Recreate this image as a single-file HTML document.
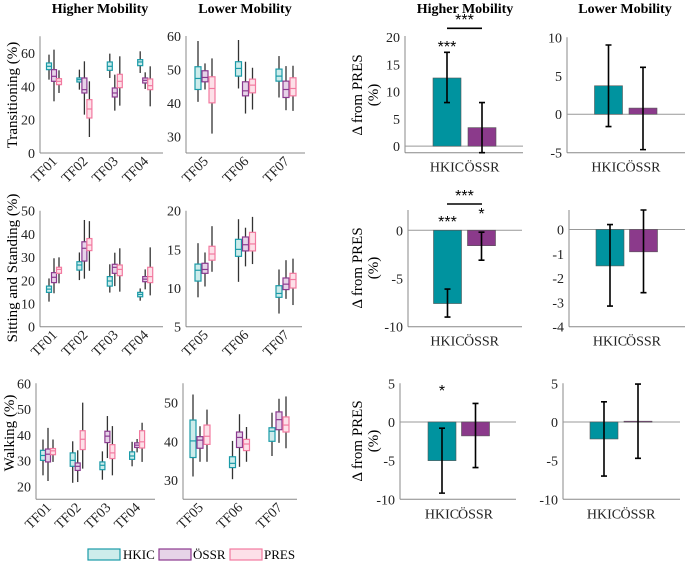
<!DOCTYPE html>
<html><head><meta charset="utf-8"><style>
html,body{margin:0;padding:0;background:#fff;}
svg{display:block;}
svg text{font-family:"Liberation Serif","Times New Roman","DejaVu Serif",serif;}
svg text.star{font-family:"Liberation Sans",sans-serif;}
</style></head><body>
<svg id="fig" width="685" height="561" viewBox="0 0 685 561" xmlns="http://www.w3.org/2000/svg">
<g font-weight="bold" font-size="14" text-anchor="middle" fill="#000">
<text x="100" y="13">Higher Mobility</text>
<text x="245" y="13">Lower Mobility</text>
<text x="465" y="13">Higher Mobility</text>
<text x="625" y="13">Lower Mobility</text>
</g>
<g font-size="15" text-anchor="middle" fill="#000">
<text transform="translate(17,95) rotate(-90)">Transitioning (%)</text>
<text transform="translate(17,268) rotate(-90)">Sitting and Standing (%)</text>
<text transform="translate(14,433) rotate(-90)">Walking (%)</text>
<text transform="translate(362,95) rotate(-90)">Δ from PRES</text>
<text transform="translate(378,95) rotate(-90)">(%)</text>
<text transform="translate(362,268) rotate(-90)">Δ from PRES</text>
<text transform="translate(378,268) rotate(-90)">(%)</text>
<text transform="translate(362,441) rotate(-90)">Δ from PRES</text>
<text transform="translate(378,441) rotate(-90)">(%)</text>
</g>
<g font-size="13">
<rect x="88" y="549" width="32" height="11" fill="#cdeceb" stroke="#1a9ba8" stroke-width="1.2"/>
<text x="123" y="559">HKIC</text>
<rect x="159" y="549" width="32" height="11" fill="#e6d3e8" stroke="#8b3a8f" stroke-width="1.2"/>
<text x="193" y="559">ÖSSR</text>
<rect x="230" y="549" width="32" height="11" fill="#fde0e8" stroke="#f27aa0" stroke-width="1.2"/>
<text x="264" y="559">PRES</text>
</g>
</svg>
<script>
// ---- box plot data: [lowWhisker, q1, median, q3, highWhisker] per group x series (HKIC, OSSR, PRES)
const transHigherCats = ["TF01","TF02","TF03","TF04"];
const transHigherHKIC = [[44,50,52,54,59],[38,42.6,44,45,50],[45,49.6,52,54.6,59.6],[48,52.4,54.6,56,61]];
const transHigherOSSR = [[31,43,46,50,62],[23,36,38,45,55],[25.4,33.6,36,39,47],[38.4,42,43.6,45,48.4]];
const transHigherPRES = [[36,41,43,44.6,49.6],[9.6,21,26.4,32,43],[28.4,39.2,43,47.2,58],[28,38,40.4,44.4,52]];
const transLowerCats = ["TF05","TF06","TF07"];
const transLowerHKIC = [[40.3,44,47.3,50.8,58.5],[44.3,48,50.3,52.3,58.8],[41.6,46.5,48,50.1,54]];
const transLowerOSSR = [[44,46.3,47.6,49.6,51.8],[36.8,42.1,43.6,46.3,52.3],[37.8,41.6,44,46.5,51]];
const transLowerPRES = [[30.8,40,44.3,47.8,53.3],[38,43,45.3,47.1,50.5],[37.6,42.1,44.3,47.5,51.1]];
const sitHigherHKIC = [[10.8,14.8,16.2,17.5,20.8],[20.1,24.4,26.6,28,32],[14.7,17.5,19.7,21.6,26.9],[11.2,12.9,13.9,14.8,16.5]];
const sitHigherOSSR = [[14.4,19,21.3,23.3,29.5],[20.7,28.3,33.8,36.6,46],[17.5,23,25.6,26.9,31.9],[16.1,19.4,20.5,21.6,24.7]];
const sitHigherPRES = [[18.7,23,24.7,25.6,29.9],[24.1,32.8,35.2,38,45.5],[15.1,22,24.7,26.6,33.8],[13.5,19,21.6,25.6,34.2]];
const sitLowerHKIC = [[8.8,10.9,12.3,13.1,15.8],[10.8,14.1,15,16.3,18.9],[6.7,8.8,9.3,10.3,12.4]];
const sitLowerOSSR = [[10.2,11.9,12.4,13.2,14.6],[12.8,14.8,15.6,16.6,17.8],[8.6,9.8,10.5,11.3,13.6]];
const sitLowerPRES = [[12.1,13.6,14.4,15.4,18],[13.1,14.8,15.7,17.2,19.2],[7.8,10,11.1,11.9,13.8]];
const walkHigherHKIC = [[24.3,30.1,32,34,38.2],[21.4,27.8,30.1,33,37.5],[22.6,26.5,28.2,29.5,33.6],[27.8,30.5,31.8,33.4,37.3]];
const walkHigherOSSR = [[22.1,29.5,32.5,34.5,42.7],[21.7,26.2,27.8,29.1,34],[31,37,39.5,41.4,47.3],[33.2,35.1,36,36.9,38.4]];
const walkHigherPRES = [[29.5,32.3,33.8,34.7,38.2],[26.9,34.3,38.3,41.6,52.5],[24.3,30.8,33,36.2,43.4],[29.5,34.9,37.3,41.6,44.7]];
const walkLowerHKIC = [[30.9,35.8,40.1,45.5,52.1],[30.2,33.2,34.3,36,40.1],[36.2,40,42.6,43.5,47.4]];
const walkLowerOSSR = [[34.7,38.2,40.3,41.2,43.9],[33.4,38.4,41,42.4,47],[39.6,43,45.6,47.6,51]];
const walkLowerPRES = [[34.7,39.2,41.3,44.2,48.2],[34.7,37.6,39.3,40.5,43.7],[38.2,42.4,44.2,46.3,51.6]];
const ticksTransHigher = [0,20,40,60];
const ticksTransLower = [30,40,50,60];
const ticksSitHigher = [0,10,20,30,40,50];
const ticksSitLower = [5,10,15,20];
const ticksWalkHigher = [20,30,40,50,60];
const ticksWalkLower = [30,40,50];
// ---- bar data: delta from PRES (HKIC, OSSR), error low/high
const barCats = ["HKIC","ÖSSR"];
const barTransHigherVals = [12.5,3.4];
const barTransHigherErrLo = [8,-1.2];
const barTransHigherErrHi = [17.2,8];
const barTransLowerVals = [3.7,0.8];
const barTransLowerErrLo = [-1.6,-4.6];
const barTransLowerErrHi = [9,6.1];
const barSitHigherVals = [-7.6,-1.6];
const barSitHigherErrLo = [-9,-3.1];
const barSitHigherErrHi = [-6.1,-0.2];
const barSitLowerVals = [-1.5,-0.92];
const barSitLowerErrLo = [-3.15,-2.6];
const barSitLowerErrHi = [0.2,0.8];
const barWalkHigherVals = [-5,-1.8];
const barWalkHigherErrLo = [-9.2,-5.9];
const barWalkHigherErrHi = [-0.8,2.4];
const barWalkLowerVals = [-2.2,0.1];
const barWalkLowerErrLo = [-7,-4.7];
const barWalkLowerErrHi = [2.6,4.9];
const ticksBar1 = [0,5,10,15,20];
const ticksBar2 = [-5,0,5,10];
const ticksBar3 = [-10,-5,0];
const ticksBar4 = [-4,-3,-2,-1,0];
const ticksBar5 = [-10,-5,0,5];

const NS = "http://www.w3.org/2000/svg";
const svg = document.getElementById("fig");
function mk(tag, attrs, parent){ const e=document.createElementNS(NS,tag); for(const k in attrs) e.setAttribute(k,attrs[k]); (parent||svg).appendChild(e); return e; }
function yScale(vBot,pBot,vTop,pTop){ return v => pBot + (v-vBot)*(pTop-pBot)/(vTop-vBot); }

const boxStroke = ["#1a9ba8","#8b3a8f","#f27aa0"];
const boxFill = ["#cdeceb","#e6d3e8","#fde0e8"];
const seriesNames = ["hkic","ossr","pres"];

function axes(g, x0, x1, yTop, yBot, ticks, y, name){
  const a1 = mk("line",{x1:x0,y1:yTop,x2:x0,y2:yBot,stroke:"#888","stroke-width":1},g);
  
  
  const a2 = mk("line",{x1:x0,y1:yBot,x2:x1,y2:yBot,stroke:"#888","stroke-width":1},g);
  
  
  ticks.forEach(t=>{
    const tl = mk("text",{x:x0-5,y:y(t)+5,"text-anchor":"end","font-size":14,fill:"#222"},g);
    tl.textContent = String(t);
    
    
  });
}

function boxPanel(name, x0, x1, yTop, yBot, vBot, vTop, cats, series, ticks, c0, step, off, bw){
  const g = mk("g",{});
  
  
  const y = yScale(vBot,yBot,vTop,yTop);
  axes(g,x0,x1,yTop,yBot,ticks,y,name);
  cats.forEach((c,i)=>{
    const cx = c0 + i*step;
    series.forEach((s,k)=>{
      const d = s[i]; const bx = cx + (k-1)*off;
      const w = mk("line",{x1:bx,y1:y(d[0]),x2:bx,y2:y(d[4]),stroke:"#333","stroke-width":1.3},g);
      
      
      const r = mk("rect",{x:bx-bw/2,y:y(d[3]),width:bw,height:y(d[1])-y(d[3]),fill:boxFill[k],stroke:boxStroke[k],"stroke-width":1.2},g);
      
      
      const m = mk("line",{x1:bx-bw/2,y1:y(d[2]),x2:bx+bw/2,y2:y(d[2]),stroke:boxStroke[k],"stroke-width":1.2},g);
      
      
    });
    const tl = mk("text",{"text-anchor":"end","font-size":14,fill:"#222",transform:"translate("+(cx+4)+","+(yBot+9)+") rotate(-45)"},g);
    tl.textContent = c;
    
    
  });
}

function barPanel(name, x0, x1, yTop, yBot, vBot, vTop, vals, lo, hi, ticks, centers){
  const g = mk("g",{});
  
  
  const y = yScale(vBot,yBot,vTop,yTop);
  axes(g,x0,x1,yTop,yBot,ticks,y,name);
  const z = mk("line",{x1:x0,y1:y(0),x2:x1,y2:y(0),stroke:"#999","stroke-width":1},g);
  
  
  const cols = ["#00939f","#8b3a8b"];
  vals.forEach((v,i)=>{
    const cx = centers[i];
    const top = Math.min(y(v),y(0)), h = Math.abs(y(v)-y(0));
    const b = mk("rect",{x:cx-14,y:top,width:28,height:Math.max(h,1),fill:cols[i],stroke:"#555","stroke-width":0.6},g);
    
    
    const e = mk("path",{d:"M"+cx+","+y(lo[i])+"V"+y(hi[i])+"M"+(cx-3)+","+y(lo[i])+"h6M"+(cx-3)+","+y(hi[i])+"h6",stroke:"#000","stroke-width":1.6,fill:"none"},g);
    
    
    const t = mk("text",{x:cx,y:yBot+19,"text-anchor":"middle","font-size":14,fill:"#222"},g);
    t.textContent = barCats[i];
    
    
  });
  return g;
}

boxPanel("transitioning-higher",40,163,36.3,153,0,70,transHigherCats,[transHigherHKIC,transHigherOSSR,transHigherPRES],ticksTransHigher,54,30.4,5,5);
boxPanel("transitioning-lower",186,305,36,153,25,60,transLowerCats,[transLowerHKIC,transLowerOSSR,transLowerPRES],ticksTransLower,205,40.5,7,6);
boxPanel("sitting-higher",40,163,210.7,326.7,0,50,transHigherCats,[sitHigherHKIC,sitHigherOSSR,sitHigherPRES],ticksSitHigher,54,30.4,5,5);
boxPanel("sitting-lower",186,302,210.7,326.7,5,20,transLowerCats,[sitLowerHKIC,sitLowerOSSR,sitLowerPRES],ticksSitLower,205,40.5,7,6);
boxPanel("walking-higher",36,155,383.3,499.3,15,60,transHigherCats,[walkHigherHKIC,walkHigherOSSR,walkHigherPRES],ticksWalkHigher,48,29.7,5,5);
boxPanel("walking-lower",183,297,383.3,499.3,25,55,transLowerCats,[walkLowerHKIC,walkLowerOSSR,walkLowerPRES],ticksWalkLower,200,39.5,7,6);

function star(g,x,yy,s,name){ const t=mk("text",{x:x,y:yy,"text-anchor":"middle","font-size":16,"class":"star",fill:"#000"},g); t.textContent=s;   }
function sigLine(g,xa,xb,yy,name){ const l=mk("line",{x1:xa,y1:yy,x2:xb,y2:yy,stroke:"#000","stroke-width":1.6},g);   }

const g1 = barPanel("bar-transitioning-higher",405,523,36,152.7,-1.2,20.2,barTransHigherVals,barTransHigherErrLo,barTransHigherErrHi,ticksBar1,[447,482]);
star(g1,447,52,"***","sig-hkic-transitioning");
sigLine(g1,447,482,28.3,"sig-line-transitioning");
star(g1,464.5,25,"***","sig-between-transitioning");
barPanel("bar-transitioning-lower",567,685,37.3,152.7,-5,10,barTransLowerVals,barTransLowerErrLo,barTransLowerErrHi,ticksBar2,[608.5,643]);
const g3 = barPanel("bar-sitting-higher",408,522,210,326.7,-10,2.1,barSitHigherVals,barSitHigherErrLo,barSitHigherErrHi,ticksBar3,[447.5,481.5]);
star(g3,447.5,227,"***","sig-hkic-sitting");
star(g3,481.5,219,"*","sig-ossr-sitting");
sigLine(g3,447,482,204,"sig-line-sitting");
star(g3,464.5,201,"***","sig-between-sitting");
barPanel("bar-sitting-lower",569,685,210,326.7,-4,0.8,barSitLowerVals,barSitLowerErrLo,barSitLowerErrHi,ticksBar4,[610,643.5]);
const g5 = barPanel("bar-walking-higher",400,516,383.3,499.3,-10,5,barWalkHigherVals,barWalkHigherErrLo,barWalkHigherErrHi,ticksBar5,[442,475.5]);
star(g5,442,396,"*","sig-hkic-walking");
barPanel("bar-walking-lower",563,680,383.3,499.3,-10,5,barWalkLowerVals,barWalkLowerErrLo,barWalkLowerErrHi,ticksBar5,[604,638]);
</script>
</body></html>
